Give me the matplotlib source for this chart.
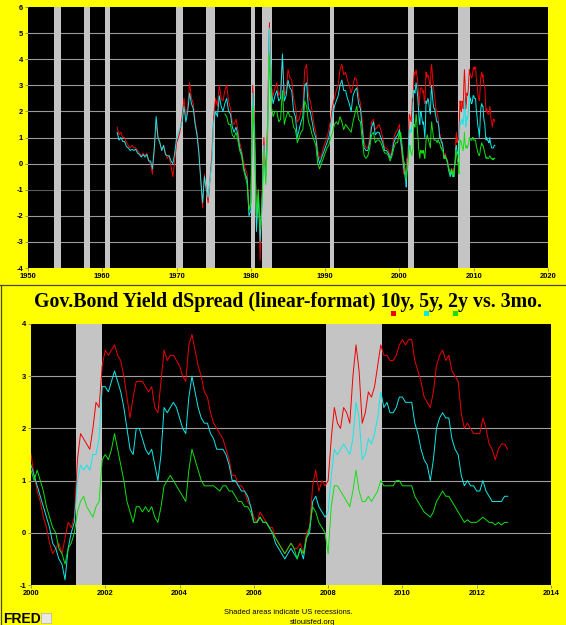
import matplotlib
matplotlib.use("Agg")
import matplotlib.pyplot as plt
import numpy as np
import pandas as pd
from matplotlib.patches import Rectangle

# --- data (percentage points, spread vs. 3-month bill) ---
# quarterly readings 1962Q1 .. 1999Q4
early_10y = [
    1.4, 1.1, 1.2, 1.0, 1.0, 0.8, 0.7, 0.6, 0.7, 0.6, 0.6, 0.5, 0.4, 0.3, 0.4, 0.3,
    0.4, 0.1, 0.0, -0.4, 0.5, 1.5, 1.0, 0.8, 0.5, 0.7, 0.4, 0.2, 0.3, -0.1, -0.5, 0.1,
    0.8, 1.0, 1.3, 1.8, 2.5, 1.8, 2.2, 3.1, 2.5, 2.3, 1.6, 1.2, 0.5, -0.6, -1.7, -0.4,
    -1.0, -1.5, -0.6, 0.3, 1.8, 2.5, 2.2, 3.0, 2.5, 2.4, 2.8, 3.0, 2.4, 2.1, 1.6, 1.5,
    1.7, 1.3, 0.8, 0.5, 0.1, -0.2, -0.4, -1.7, -1.5, 3.0, 1.5, -2.5, -1.0, -3.7, -1.2, 1.0,
    -0.5, 1.5, 5.4, 3.0, 2.6, 2.9, 3.1, 2.6, 2.8, 4.0, 2.6, 2.8, 3.6, 3.3, 3.2, 2.5,
    2.2, 1.6, 1.7, 2.0, 2.2, 3.6, 3.8, 2.6, 2.4, 2.0, 1.5, 1.2, 0.5, 0.2, 0.3, 0.6,
    0.8, 1.0, 1.3, 1.7, 2.2, 2.5, 2.8, 3.0, 3.6, 3.8, 3.4, 3.5, 3.2, 3.0, 2.7, 3.0,
    3.3, 3.2, 2.6, 2.3, 1.6, 0.8, 0.6, 0.6, 1.0, 1.6, 1.7, 1.3, 1.4, 1.5, 1.3, 1.0,
    0.6, 0.6, 0.5, 0.3, 0.5, 1.0, 1.2, 1.3,
]
early_5y = [
    1.2, 0.9, 1.0, 0.85, 0.85, 0.65, 0.6, 0.5, 0.55, 0.5, 0.55, 0.4, 0.35, 0.25, 0.35, 0.25,
    0.35, 0.1, 0.1, -0.2, 0.6, 1.8, 1.0, 0.8, 0.5, 0.7, 0.35, 0.3, 0.3, 0.1, 0.0, 0.4,
    1.0, 1.2, 1.4, 1.6, 2.2, 1.6, 2.0, 2.7, 2.3, 2.1, 1.5, 1.1, 0.4, -0.6, -1.5, -0.5,
    -1.0, -1.3, -0.6, 0.0, 1.6, 2.0, 1.8, 2.6, 2.2, 2.0, 2.3, 2.5, 2.0, 1.9, 1.4, 1.2,
    1.4, 1.1, 0.6, 0.4, -0.1, -0.4, -0.6, -2.0, -1.8, 2.7, 1.2, -2.6, -1.2, -3.0, -1.6, 0.7,
    -0.7, 1.2, 5.2, 2.8, 2.3, 2.6, 2.8, 2.4, 2.5, 4.2, 2.4, 2.6, 3.2, 2.9, 2.8, 2.0,
    1.8, 1.0, 1.3, 1.6, 1.8, 3.0, 3.1, 2.1, 2.0, 1.6, 1.2, 1.0, 0.3, 0.0, 0.2, 0.4,
    0.6, 0.8, 1.0, 1.4, 1.8, 2.2, 2.4, 2.6, 3.0, 3.2, 2.8, 2.8, 2.5, 2.3, 2.0, 2.6,
    2.8, 2.9, 2.3, 2.1, 1.3, 0.6, 0.5, 0.5, 0.8, 1.4, 1.6, 1.1, 1.2, 1.2, 1.0, 0.8,
    0.5, 0.5, 0.4, 0.2, 0.4, 0.8, 1.0, 1.1,
]
# 2-year series starts 1976Q3
early_2y = [
    1.9, 1.8, 1.5, 1.5, 1.1, 1.0, 1.2, 0.9, 0.5, 0.3, -0.2, -0.5, -0.8, -1.8,
    -1.5, 2.2, 0.8, -2.0, -1.0, -2.5, -1.5, 0.5, -0.8, 1.0, 4.2, 2.2, 1.8, 2.0, 2.0, 1.6,
    1.7, 2.8, 1.5, 1.8, 2.0, 1.8, 1.8, 1.4, 1.3, 0.8, 1.0, 1.2, 1.3, 2.4, 2.2, 1.6,
    1.4, 1.1, 0.9, 0.7, 0.0, -0.2, 0.0, 0.2, 0.4, 0.6, 0.7, 1.0, 1.2, 1.5, 1.6, 1.5,
    1.8, 1.6, 1.3, 1.5, 1.4, 1.3, 1.2, 1.6, 1.9, 2.2, 1.7, 1.6, 0.9, 0.3, 0.2, 0.3,
    0.6, 1.1, 1.2, 0.8, 0.9, 0.9, 0.8, 0.6, 0.4, 0.4, 0.3, 0.1, 0.3, 0.6, 0.8, 0.8,
]

# monthly readings Jan 2000 .. Nov 2012
recent_10y = [
    1.5, 1.1, 0.8, 0.6, 0.3, 0.1, -0.2, -0.4, -0.3, -0.2, -0.4, -0.1,
    0.2, 0.1, 0.3, 1.4, 1.9, 1.8, 1.7, 1.6, 2.0, 2.5, 2.4, 3.2,
    3.5, 3.4, 3.5, 3.6, 3.4, 3.3, 3.0, 2.6, 2.2, 2.6, 2.9, 2.9,
    2.9, 2.8, 2.7, 2.8, 2.4, 2.3, 2.9, 3.5, 3.3, 3.4, 3.4, 3.3,
    3.2, 3.0, 2.9, 3.6, 3.8, 3.5, 3.2, 3.0, 2.7, 2.6, 2.3, 2.1,
    2.0, 1.9, 1.8, 1.6, 1.4, 1.1, 1.1, 0.9, 0.9, 0.8, 0.6, 0.5,
    0.3, 0.2, 0.4, 0.3, 0.2, 0.1, 0.1, -0.1, -0.2, -0.3, -0.4, -0.3,
    -0.2, -0.3, -0.3, -0.2, -0.4, 0.0, 0.1, 0.9, 1.2, 0.8, 1.0, 0.9,
    1.0, 1.8, 2.4, 2.1, 2.0, 2.4, 2.3, 2.1, 3.0, 3.6, 3.1, 2.1,
    2.3, 2.7, 2.6, 2.8, 3.2, 3.6, 3.4, 3.4, 3.3, 3.3, 3.4, 3.6,
    3.7, 3.6, 3.7, 3.7, 3.3, 3.1, 2.9, 2.6, 2.5, 2.4, 2.7, 3.2,
    3.4, 3.5, 3.3, 3.4, 3.1, 3.0, 2.9, 2.3, 2.0, 2.1, 2.0, 1.9,
    1.9, 1.9, 2.2, 2.0, 1.7, 1.6, 1.4, 1.6, 1.7, 1.7, 1.6,
]
recent_5y = [
    1.3, 1.1, 0.9, 0.7, 0.5, 0.3, 0.1, -0.2, -0.3, -0.5, -0.6, -0.9,
    -0.3, 0.0, 0.2, 1.0, 1.3, 1.2, 1.3, 1.2, 1.5, 1.5, 1.8, 2.8,
    2.8, 2.7, 2.9, 3.1, 2.9, 2.7, 2.4, 2.0, 1.6, 1.5, 2.0, 2.0,
    1.8, 1.6, 1.5, 1.6, 1.3, 1.0, 1.5, 2.4, 2.3, 2.4, 2.5, 2.4,
    2.2, 2.0, 1.9, 2.6, 3.0, 2.7, 2.4, 2.2, 2.1, 2.1, 1.9, 1.8,
    1.6, 1.6, 1.6, 1.5, 1.3, 1.0, 1.0, 0.9, 0.8, 0.8, 0.7, 0.5,
    0.2, 0.2, 0.3, 0.2, 0.2, 0.1, 0.0, -0.2, -0.3, -0.4, -0.5, -0.4,
    -0.3, -0.4, -0.5, -0.3, -0.5, -0.1, 0.0, 0.6, 0.7, 0.5, 0.4, 0.3,
    0.4, 1.1, 1.6, 1.5, 1.6, 1.7, 1.6, 1.5, 1.8, 2.5, 2.2, 1.4,
    1.5, 1.8, 1.7, 1.9, 2.2, 2.7, 2.4, 2.5, 2.3, 2.3, 2.4, 2.6,
    2.6, 2.5, 2.5, 2.5, 2.1, 1.9, 1.6, 1.4, 1.3, 1.0, 1.4, 2.0,
    2.2, 2.3, 2.2, 2.2, 1.8, 1.6, 1.5, 1.1, 0.9, 1.0, 0.9, 0.9,
    0.8, 0.8, 1.0, 0.8, 0.7, 0.6, 0.6, 0.6, 0.6, 0.7, 0.7,
]
recent_2y = [
    1.2, 1.0, 1.2, 1.0, 0.8, 0.5, 0.3, 0.1, 0.0, -0.3, -0.4, -0.6,
    -0.3, -0.2, 0.0, 0.4, 0.6, 0.7, 0.5, 0.4, 0.3, 0.5, 0.6, 1.4,
    1.5, 1.4, 1.6, 1.9, 1.6, 1.3, 1.0, 0.6, 0.4, 0.2, 0.5, 0.5,
    0.4, 0.5, 0.4, 0.5, 0.3, 0.2, 0.5, 0.9, 1.0, 1.1, 1.0, 0.9,
    0.8, 0.7, 0.6, 1.2, 1.6, 1.4, 1.2, 1.0, 0.9, 0.9, 0.9, 0.9,
    0.85, 0.8, 0.9, 0.9, 0.8, 0.8, 0.7, 0.6, 0.6, 0.5, 0.5, 0.4,
    0.2, 0.2, 0.3, 0.2, 0.2, 0.1, 0.0, -0.1, -0.2, -0.3, -0.4, -0.3,
    -0.2, -0.3, -0.5, -0.3, -0.4, -0.1, 0.1, 0.5, 0.4, 0.2, 0.1, 0.0,
    -0.4, 0.5, 0.9, 0.9, 0.8, 0.7, 0.6, 0.5, 0.8, 1.2, 0.8, 0.6,
    0.6, 0.7, 0.6, 0.7, 0.8, 1.0, 0.9, 0.9, 0.9, 0.9, 1.0, 1.0,
    0.9, 0.9, 0.9, 0.9, 0.7, 0.6, 0.5, 0.4, 0.35, 0.3, 0.4, 0.6,
    0.7, 0.8, 0.7, 0.7, 0.6, 0.5, 0.4, 0.3, 0.2, 0.25, 0.2, 0.2,
    0.2, 0.25, 0.3, 0.25, 0.2, 0.2, 0.15, 0.2, 0.15, 0.2, 0.2,
]

recessions = [
    (1953.5, 1954.4), (1957.6, 1958.3), (1960.3, 1961.1), (1969.9, 1970.9),
    (1973.9, 1975.2), (1980.0, 1980.5), (1981.5, 1982.9), (1990.6, 1991.2),
    (2001.2, 2001.9), (2007.95, 2009.45),
]

title = "Gov.Bond Yield dSpread (linear-format) 10y, 5y, 2y vs. 3mo."

RED, CYAN, GREEN = "#f00000", "#10e8e8", "#10e010"
BG = "#ffff00"


def to_years(dates):
    return dates.year + (dates.month - 1) / 12.0 + (dates.day - 1) / 365.0


q_early = to_years(pd.date_range("1962-01-01", periods=len(early_10y), freq="QS"))
q_2y = to_years(pd.date_range("1976-07-01", periods=len(early_2y), freq="QS"))
m_recent = to_years(pd.date_range("2000-01-01", periods=len(recent_10y), freq="MS"))

x10 = np.concatenate([q_early, m_recent])
y10 = np.concatenate([early_10y, recent_10y])
x5 = np.concatenate([q_early, m_recent])
y5 = np.concatenate([early_5y, recent_5y])
x2 = np.concatenate([q_2y, m_recent])
y2 = np.concatenate([early_2y, recent_2y])

tick_font = dict(family="Liberation Sans", size=5.4, weight="bold")
LW = 0.7

fig = plt.figure(figsize=(5.66, 6.25), dpi=100, facecolor=BG)


def style_axes(ax, xlim, ylim, xticks, yticks):
    ax.set_facecolor("black")
    ax.set_xlim(*xlim)
    ax.set_ylim(*ylim)
    ax.set_xticks(xticks)
    ax.set_yticks(yticks)
    ax.set_xticklabels([str(t) for t in xticks], fontdict=tick_font)
    ax.set_yticklabels([str(t) for t in yticks], fontdict=tick_font)
    ax.tick_params(length=2, width=0.6, color="#808080", pad=1.5)
    for s in ax.spines.values():
        s.set_visible(False)
    for lo, hi in recessions:
        if hi > xlim[0] and lo < xlim[1]:
            ax.axvspan(lo, hi, color="#c4c4c4", lw=0, zorder=1)


# top panel: full history
ax1 = fig.add_axes([28 / 566, 1 - 268 / 625, 520 / 566, 261 / 625])
style_axes(ax1, (1950, 2020), (-4, 6), list(range(1950, 2021, 10)), list(range(-4, 7)))
for v in range(-3, 6):
    ax1.axhline(v, color="#5a5a5a" if v == -1 else "#9a9a9a", lw=0.8, zorder=0.5)
ax1.plot(x10, y10, color=RED, lw=LW, zorder=2)
ax1.plot(x5, y5, color=CYAN, lw=LW, zorder=3)
ax1.plot(x2, y2, color=GREEN, lw=LW, zorder=4)

# bottom panel: 2000 onwards
ax2 = fig.add_axes([31 / 566, 1 - 585 / 625, 520 / 566, 261 / 625])
style_axes(ax2, (2000, 2014), (-1, 4), list(range(2000, 2015, 2)), list(range(-1, 5)))
for v in range(0, 4):
    ax2.axhline(v, color="#a0a0a0", lw=0.8, zorder=0.5)
sel10 = x10 >= 2000
sel5 = x5 >= 2000
sel2 = x2 >= 2000
ax2.plot(x10[sel10], y10[sel10], color=RED, lw=LW, zorder=2)
ax2.plot(x5[sel5], y5[sel5], color=CYAN, lw=LW, zorder=3)
ax2.plot(x2[sel2], y2[sel2], color=GREEN, lw=LW, zorder=4)

# frame around lower part
fig.add_artist(plt.Line2D([0, 1], [1 - 284.5 / 625] * 2, transform=fig.transFigure,
                          color="#4a4a20", lw=0.9))
fig.add_artist(plt.Line2D([0.5 / 566] * 2, [0, 1 - 284.5 / 625], transform=fig.transFigure,
                          color="#4a4a20", lw=0.9))

# title with colour keys
fig.text(288 / 566, 1 - 302 / 625, title, ha="center", va="center",
         family="Liberation Serif", weight="bold", size=14.3, color="black")
for xk, col in [(393, RED), (426, CYAN), (455, GREEN)]:
    fig.add_artist(Rectangle(((xk - 2.5) / 566, 1 - 316 / 625), 5 / 566, 5 / 625,
                             transform=fig.transFigure, color=col, lw=0))

# footer
fig.text(288 / 566, 1 - 613 / 625, "Shaded areas indicate US recessions.",
         ha="center", va="center", family="Liberation Sans", size=5.4)
fig.text(312 / 566, 1 - 623 / 625, "stlouisfed.org",
         ha="center", va="center", family="Liberation Sans", size=5.4)
fig.text(3 / 566, 1 - 619 / 625, "FRED", ha="left", va="center",
         family="Liberation Sans", weight="bold", size=10, color="black")
fig.add_artist(Rectangle((41 / 566, 1 - 623 / 625), 10 / 566, 10 / 625,
                         transform=fig.transFigure, facecolor="#e8e8e8",
                         edgecolor="#b0b0b0", lw=0.5))

fig.savefig("out.png", dpi=100, facecolor=BG)
